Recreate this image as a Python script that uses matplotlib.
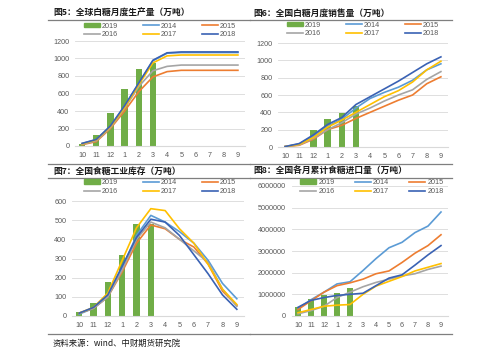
import numpy as np
import matplotlib
matplotlib.use("Agg")
import matplotlib.pyplot as plt
from matplotlib.lines import Line2D

plt.rcParams['font.family'] = ['Liberation Sans', 'Noto Sans CJK SC', 'DejaVu Sans']

months = ['10', '11', '12', '1', '2', '3', '4', '5', '6', '7', '8', '9']
years = ['2014', '2015', '2016', '2017', '2018']
colors = {'2019': '#70AD47', '2014': '#5B9BD5', '2015': '#ED7D31',
          '2016': '#A5A5A5', '2017': '#FFC000', '2018': '#3A62B4'}

# 图5 全球白糖月度生产量
prod_2019 = [20, 126, 381, 648, 884, 952]
prod = {
    '2014': [28, 72, 225, 455, 715, 975, 1060, 1068, 1068, 1068, 1068, 1068],
    '2015': [15, 50, 200, 400, 620, 790, 850, 865, 865, 865, 865, 865],
    '2016': [20, 60, 210, 430, 680, 860, 910, 925, 925, 925, 925, 925],
    '2017': [25, 70, 220, 440, 700, 950, 1030, 1040, 1040, 1040, 1040, 1040],
    '2018': [30, 75, 230, 460, 720, 980, 1065, 1075, 1075, 1075, 1075, 1075],
}

# 图6 全国白糖月度销售量
sales_2019 = [0, 0, 195, 318, 395, 475]
sales = {
    '2014': [5, 35, 130, 240, 320, 450, 560, 630, 690, 770, 890, 960],
    '2015': [5, 20, 90, 200, 250, 330, 400, 470, 540, 600, 730, 810],
    '2016': [5, 25, 100, 200, 280, 380, 450, 530, 600, 660, 780, 870],
    '2017': [5, 30, 110, 230, 310, 400, 490, 580, 650, 750, 890, 990],
    '2018': [5, 40, 140, 260, 340, 490, 580, 670, 760, 860, 960, 1040],
}

# 图7 全国食糖工业库存
stock_2019 = [23, 70, 179, 318, 480, 478]
stock = {
    '2014': [10, 40, 100, 250, 420, 525, 490, 440, 380, 290, 170, 90],
    '2015': [15, 40, 100, 230, 380, 475, 455, 400, 360, 270, 130, 55],
    '2016': [15, 40, 100, 240, 400, 490, 460, 400, 340, 280, 140, 50],
    '2017': [15, 45, 120, 290, 460, 560, 550, 455, 380, 270, 140, 60],
    '2018': [15, 45, 110, 260, 410, 505, 490, 420, 320, 220, 110, 35],
}

# 图8 全国各月累计食糖进口量
imp_2019 = [430000, 770000, 970000, 1080000, 1310000]
imp = {
    '2014': [350000, 750000, 1100000, 1480000, 1580000, 2100000, 2650000, 3150000, 3400000, 3850000, 4150000, 4800000],
    '2015': [300000, 700000, 1100000, 1400000, 1530000, 1700000, 1950000, 2080000, 2470000, 2900000, 3250000, 3750000],
    '2016': [100000, 250000, 450000, 850000, 1100000, 1350000, 1550000, 1700000, 1850000, 1950000, 2150000, 2300000],
    '2017': [150000, 300000, 450000, 500000, 530000, 1000000, 1380000, 1600000, 1820000, 2080000, 2250000, 2420000],
    '2018': [400000, 720000, 850000, 950000, 1000000, 1050000, 1400000, 1750000, 1900000, 2350000, 2820000, 3250000],
}

titles = ['图5：全球白糖月度生产量（万吨）', '图6：全国白糖月度销售量（万吨）',
          '图7：全国食糖工业库存（万吨）', '图8：全国各月累计食糖进口量（万吨）']

W, H = 500, 355
fig = plt.figure(figsize=(W / 100, H / 100), dpi=100)


def px_axes(x0, x1, ytop, ybot):
    return fig.add_axes([x0 / W, (H - ybot) / H, (x1 - x0) / W, (ybot - ytop) / H])


def draw(ax, bars, lines, ymax, step, legend_xy, colsp):
    x = np.arange(len(months))
    ax.bar(x[:len(bars)], bars, width=0.45, color=colors['2019'], zorder=2)
    for y in years:
        ax.plot(x, lines[y], color=colors[y], lw=1.2, zorder=3)
    ax.set_xlim(-0.5, len(months) - 0.5)
    ax.set_ylim(0, ymax)
    ax.set_xticks(x)
    ax.set_xticklabels(months)
    ax.set_yticks(np.arange(0, ymax + 1, step))
    ax.ticklabel_format(axis='y', style='plain', useOffset=False)
    ax.yaxis.grid(True, color='#D9D9D9', lw=0.6)
    ax.set_axisbelow(True)
    for s in ['top', 'right', 'left']:
        ax.spines[s].set_visible(False)
    ax.spines['bottom'].set_color('#D9D9D9')
    ax.tick_params(length=0, labelsize=5.2, labelcolor='#595959', pad=4)
    handles = [plt.Rectangle((0, 0), 1, 1, color=colors['2019'])]
    handles += [Line2D([], [], color=colors[y], lw=1.2) for y in years]
    labels = ['2019'] + years
    order = [0, 3, 1, 4, 2, 5]
    fig.legend([handles[i] for i in order], [labels[i] for i in order],
               loc='center', bbox_to_anchor=(legend_xy[0] / W, 1 - legend_xy[1] / H),
               ncol=3, frameon=False, fontsize=5.2, handlelength=2.2,
               handleheight=0.5, handletextpad=0.3, columnspacing=colsp,
               labelspacing=0.25, labelcolor='#595959', borderpad=0)


ax1 = px_axes(75, 245, 41, 146)
draw(ax1, prod_2019, prod, 1200, 200, (160, 30.5), 3.4)
ax2 = px_axes(278, 448, 43, 147)
draw(ax2, sales_2019, sales, 1200, 200, (363, 29.5), 3.4)
ax3 = px_axes(72, 244, 201, 316)
draw(ax3, stock_2019, stock, 600, 100, (160, 187), 3.4)
ax4 = px_axes(291.5, 447.5, 186, 316)
draw(ax4, imp_2019, imp, 6000000, 1000000, (372, 187), 2.8)

cjk = ['Noto Sans CJK SC', 'DejaVu Sans']
title_pos = [(53, 13), (253, 13), (53, 171), (253, 171)]
for t, (tx, ty) in zip(titles, title_pos):
    fig.text(tx / W, 1 - ty / H, t, fontsize=6.3, fontweight='bold',
             family=cjk, va='center', ha='left', color='#1a1a1a')

sep = [(48, 250, 20), (250, 452, 20), (48, 250, 164), (250, 452, 164),
       (48, 250, 178), (250, 452, 178), (48, 250, 334), (250, 452, 334)]
for x0, x1, y in sep:
    fig.add_artist(Line2D([x0 / W, x1 / W], [1 - y / H, 1 - y / H],
                          color='#7f7f7f', lw=0.9, transform=fig.transFigure))

fig.text(53 / W, 1 - 343 / H, '资料来源：wind、中财期货研究院', fontsize=6,
         family=cjk, va='center', ha='left', color='#1a1a1a')

fig.savefig('out.png', dpi=100, facecolor='white')
